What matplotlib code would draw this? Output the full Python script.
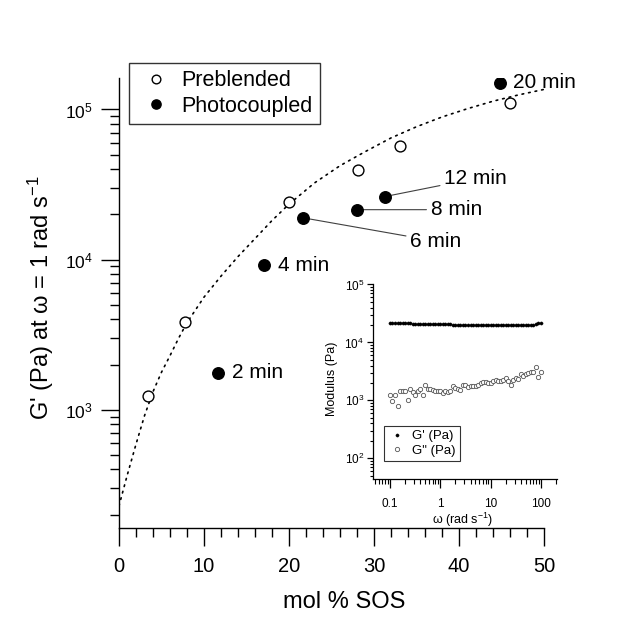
import numpy as np
import matplotlib
matplotlib.use('Agg')
import matplotlib.pyplot as plt
from matplotlib.ticker import MultipleLocator, LogLocator, NullFormatter

plt.rcParams['font.family'] = ['Liberation Sans', 'DejaVu Sans']
plt.rcParams['mathtext.fontset'] = 'custom'
plt.rcParams['mathtext.rm'] = 'Liberation Sans'
plt.rcParams['mathtext.it'] = 'Liberation Sans:italic'
plt.rcParams['mathtext.bf'] = 'Liberation Sans:bold'
plt.rcParams['mathtext.default'] = 'regular'

# ---------------- data ----------------
pre_x = [3.45, 7.76, 20.0, 28.1, 33.0, 46.0]
pre_g = [1226, 3820, 24200, 39800, 57500, 111000]

photo_x = [11.7, 17.1, 21.7, 28.0, 31.3, 44.8]
photo_g = [1757, 9150, 18960, 21500, 26300, 149000]
photo_labels = ['2 min', '4 min', '6 min', '8 min', '12 min', '20 min']

fit_x = [0, 1, 2, 3, 4, 5, 6, 7, 8, 10, 12, 14, 16, 18, 20, 23, 26, 29, 32,
         35, 38, 41, 44, 47, 50]
fit_g = [229, 372, 589, 912, 1318, 1778, 2291, 2985, 3802, 5620, 7760, 10470,
         13800, 18200, 23400, 32400, 42200, 52500, 64600, 76700, 89100,
         101200, 113500, 125000, 136000]

omega = list(np.logspace(-1, 2, 61))
g_storage = [21700, 21600, 21600, 21500, 21500, 21400, 21400, 21300, 21300, 21200,
             21200, 21100, 21100, 21000, 21000, 20900, 20900, 20800, 20800, 20700,
             20700, 20600, 20600, 20500, 20500, 20400, 20400, 20300, 20300, 20200,
             20200, 20100, 20100, 20000, 20000, 20000, 19900, 19900, 19900, 19800,
             19800, 19800, 19800, 19800, 19800, 19800, 19800, 19800, 19800, 19800,
             19900, 19900, 19900, 20000, 20000, 20100, 20200, 20400, 20800, 21300,
             21600]
g_loss = [1250, 990, 1220, 800, 1470, 1450, 1430, 1000, 1590, 1400,
          1260, 1470, 1590, 1220, 1820, 1600, 1550, 1530, 1480, 1470,
          1430, 1340, 1470, 1420, 1430, 1750, 1640, 1580, 1530, 1820,
          1820, 1700, 1760, 1750, 1790, 1820, 2000, 2050, 2050, 2000,
          2000, 2130, 2280, 2190, 2200, 2280, 2440, 2130, 1820, 2280,
          2440, 2370, 2860, 2680, 2900, 2980, 3100, 3150, 3830, 2500,
          3100]

# ---------------- figure ----------------
W, H = 618, 624
fig = plt.figure(figsize=(W / 100, H / 100), dpi=100)
fig.patch.set_facecolor('white')

def px_axes(l, t, r, b):
    return [l / W, 1 - b / H, (r - l) / W, (b - t) / H]

ax = fig.add_axes(px_axes(119, 78, 544, 528))
ax.set_yscale('log')
ax.set_xlim(0, 50)
ax.set_ylim(163, 1.62e5)
for s in ('top', 'right'):
    ax.spines[s].set_visible(False)
for s in ('left', 'bottom'):
    ax.spines[s].set_linewidth(1.0)

ax.xaxis.set_major_locator(MultipleLocator(10))
ax.xaxis.set_minor_locator(MultipleLocator(2))
ax.yaxis.set_major_locator(LogLocator(base=10))
ax.yaxis.set_minor_locator(LogLocator(base=10, subs=np.arange(2, 10)))
ax.yaxis.set_minor_formatter(NullFormatter())
ax.tick_params(which='major', direction='out', length=13, width=1.0)
ax.tick_params(which='minor', direction='out', length=6.5, width=1.0)
ax.tick_params(axis='x', labelsize=14.5, pad=8)
ax.tick_params(axis='y', labelsize=12.5, pad=6)

# fit curve
ax.plot(fit_x, fit_g, color='black', lw=1.2, linestyle=(0, (1, 3.0)),
        dash_capstyle='round', zorder=2)

h_pre, = ax.plot(pre_x, pre_g, linestyle='none', marker='o', ms=7.8,
                 mfc='white', mec='black', mew=1.0, zorder=4, label='Preblended')
h_photo, = ax.plot(photo_x, photo_g, linestyle='none', marker='o', ms=8.3,
                   mfc='black', mec='black', zorder=4, label='Photocoupled')

offsets = {'2 min': (9.6, 0), '4 min': (9.8, 0), '6 min': (76.8, -16.8),
           '8 min': (53, 0), '12 min': (42.5, 13.0), '20 min': (9.6, 1)}
leaders = {'6 min', '8 min', '12 min'}
for x, g, lab in zip(photo_x, photo_g, photo_labels):
    kw = {}
    if lab in leaders:
        kw['arrowprops'] = dict(arrowstyle='-', color='#404040', lw=0.8,
                                shrinkA=1, shrinkB=4)
    ax.annotate(lab, xy=(x, g), xytext=offsets[lab], textcoords='offset points',
                ha='left', va='center', fontsize=15, **kw)

leg = ax.legend(handles=[h_pre, h_photo], loc='upper left',
                bbox_to_anchor=(0.0235, 1.033), borderaxespad=0,
                fontsize=15.5, frameon=True, fancybox=False, handlelength=1.85,
                handletextpad=0.25, labelspacing=0.22, borderpad=0.33,
                markerscale=0.8)
leg.get_frame().set_edgecolor('black')
leg.get_frame().set_linewidth(1.0)

ax.set_xlabel('mol % SOS', fontsize=17, va='center')
ax.xaxis.set_label_coords(0.529, -0.164)
ax.set_ylabel("G' (Pa) at ω = 1 rad s$^{-1}$", fontsize=17, va='center')
ax.yaxis.set_label_coords(-0.1835, 0.513)

# ---------------- inset ----------------
axin = fig.add_axes(px_axes(373, 284, 557, 479))
axin.set_facecolor('none')
axin.set_xscale('log')
axin.set_yscale('log')
axin.set_xlim(0.046, 208)
axin.set_ylim(44, 1.02e5)
for s in ('top', 'right'):
    axin.spines[s].set_visible(False)
for s in ('left', 'bottom'):
    axin.spines[s].set_linewidth(0.9)
axin.xaxis.set_major_locator(LogLocator(base=10))
axin.xaxis.set_minor_locator(LogLocator(base=10, subs=np.arange(2, 10)))
axin.xaxis.set_minor_formatter(NullFormatter())
axin.yaxis.set_major_locator(LogLocator(base=10))
axin.yaxis.set_minor_locator(LogLocator(base=10, subs=np.arange(2, 10)))
axin.yaxis.set_minor_formatter(NullFormatter())
axin.xaxis.set_major_formatter(matplotlib.ticker.FuncFormatter(
    lambda v, p: ('%g' % v)))
axin.tick_params(axis='x', which='major', direction='out', length=6.5, width=0.9,
                 labelsize=8.5, pad=7)
axin.tick_params(axis='x', which='minor', direction='out', length=3.5, width=0.8)
axin.tick_params(axis='y', which='major', direction='out', length=4.5, width=0.9,
                 labelsize=8.5, pad=2)
axin.tick_params(axis='y', which='minor', direction='out', length=2.5, width=0.8)

h_gp, = axin.plot(omega, g_storage, linestyle='none', marker='o', ms=2.3,
                  mfc='black', mec='black', mew=0.3, label="G' (Pa)")
h_gpp, = axin.plot(omega, g_loss, linestyle='none', marker='o', ms=3.1,
                   mfc='white', mec='#555555', mew=0.6, label='G" (Pa)')

leg2 = axin.legend(handles=[h_gp, h_gpp], loc='upper left',
                   bbox_to_anchor=(0.06, 0.272), borderaxespad=0,
                   fontsize=9.5, frameon=True, fancybox=False, handlelength=1.3,
                   handletextpad=0.55, labelspacing=0.2, borderpad=0.3)
leg2.get_frame().set_edgecolor('black')
leg2.get_frame().set_linewidth(0.8)

axin.set_xlabel('ω (rad s$^{-1}$)', fontsize=9, va='center')
axin.xaxis.set_label_coords(0.489, -0.21)
axin.set_ylabel('Modulus (Pa)', fontsize=9, va='center')
axin.yaxis.set_label_coords(-0.223, 0.513)

fig.savefig('out.png', dpi=100, facecolor='white')
